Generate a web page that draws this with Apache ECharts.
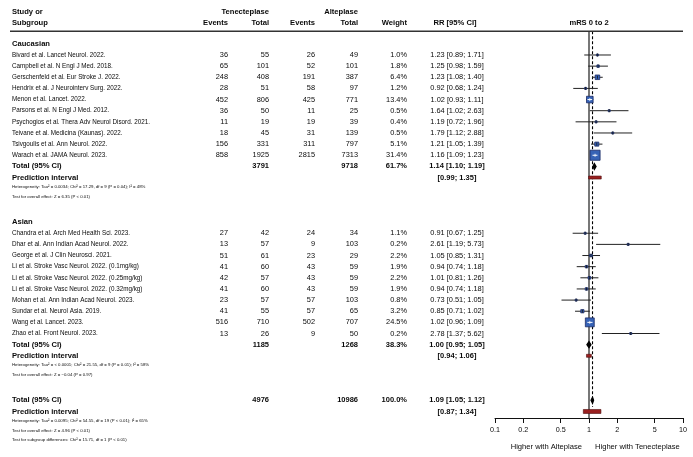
<!DOCTYPE html>
<html><head><meta charset="utf-8">
<script src="https://cdn.jsdelivr.net/npm/echarts@6/dist/echarts.min.js"></script>
<style>html,body{margin:0;padding:0;background:#fff}#c{width:693px;height:457px}</style>
</head><body><div id="c"></div>
<script>
// ---------- DATA ----------
const groupNames = ['Caucasian', 'Asian'];
const cauStudies = ['Bivard et al. Lancet Neurol. 2022.', 'Campbell et al. N Engl J Med. 2018.', 'Gerschenfeld et al. Eur Stroke J. 2022.', 'Hendrix et al. J Neurointerv Surg. 2022.', 'Menon et al. Lancet. 2022.', 'Parsons et al. N Engl J Med. 2012.', 'Psychogios et al. Thera Adv Neurol Disord. 2021.', 'Teivane et al. Medicina (Kaunas). 2022.', 'Tsivgoulis et al. Ann Neurol. 2022.', 'Warach et al. JAMA Neurol. 2023.'];
const cauEvT = [36, 65, 248, 28, 452, 36, 11, 18, 156, 858];
const cauTotT = [55, 101, 408, 51, 806, 50, 19, 45, 331, 1925];
const cauEvA = [26, 52, 191, 58, 425, 11, 19, 31, 311, 2815];
const cauTotA = [49, 101, 387, 97, 771, 25, 39, 139, 797, 7313];
const cauWeight = [1.0, 1.8, 6.4, 1.2, 13.4, 0.5, 0.4, 0.5, 5.1, 31.4];
const cauRR = [1.23, 1.25, 1.23, 0.92, 1.02, 1.64, 1.19, 1.79, 1.21, 1.16];
const cauLo = [0.89, 0.98, 1.08, 0.68, 0.93, 1.02, 0.72, 1.12, 1.05, 1.09];
const cauHi = [1.71, 1.59, 1.40, 1.24, 1.11, 2.63, 1.96, 2.88, 1.39, 1.23];

const asiStudies = ['Chandra et al. Arch Med Health Sci. 2023.', 'Dhar et al. Ann Indian Acad Neurol. 2022.', 'George et al. J Clin Neurosci. 2021.', 'Li et al. Stroke Vasc Neurol. 2022. (0.1mg/kg)', 'Li et al. Stroke Vasc Neurol. 2022. (0.25mg/kg)', 'Li et al. Stroke Vasc Neurol. 2022. (0.32mg/kg)', 'Mohan et al. Ann Indian Acad Neurol. 2023.', 'Sundar et al. Neurol Asia. 2019.', 'Wang et al. Lancet. 2023.', 'Zhao et al. Front Neurol. 2023.'];
const asiEvT = [27, 13, 51, 41, 42, 41, 23, 41, 516, 13];
const asiTotT = [42, 57, 61, 60, 57, 60, 57, 55, 710, 26];
const asiEvA = [24, 9, 23, 43, 43, 43, 57, 57, 502, 9];
const asiTotA = [34, 103, 29, 59, 59, 59, 103, 65, 707, 50];
const asiWeight = [1.1, 0.2, 2.2, 1.9, 2.2, 1.9, 0.8, 3.2, 24.5, 0.2];
const asiRR = [0.91, 2.61, 1.05, 0.94, 1.01, 0.94, 0.73, 0.85, 1.02, 2.78];
const asiLo = [0.67, 1.19, 0.85, 0.74, 0.81, 0.74, 0.51, 0.71, 0.96, 1.37];
const asiHi = [1.25, 5.73, 1.31, 1.18, 1.26, 1.18, 1.05, 1.02, 1.09, 5.62];

// pooled: [Caucasian, Asian, Overall]
const poolTotT = [3791, 1185, 4976];
const poolTotA = [9718, 1268, 10986];
const poolWeight = [61.7, 38.3, 100.0];
const poolRR = [1.14, 1.00, 1.09];
const poolLo = [1.10, 0.95, 1.05];
const poolHi = [1.19, 1.05, 1.12];
const predLo = [0.99, 0.94, 0.87];
const predHi = [1.35, 1.06, 1.34];
const hetTexts = [
  'Heterogeneity: Tau\u00b2 = 0.0034; Chi\u00b2 = 17.29, df = 9 (P = 0.04); I\u00b2 = 48%',
  'Heterogeneity: Tau\u00b2 = < 0.0001; Chi\u00b2 = 21.55, df = 9 (P = 0.01); I\u00b2 = 58%',
  'Heterogeneity: Tau\u00b2 = 0.0095; Chi\u00b2 = 54.55, df = 19 (P < 0.01); I\u00b2 = 65%'];
const effectTexts = [
  'Test for overall effect: Z = 6.35 (P < 0.01)',
  'Test for overall effect: Z = \u22120.04 (P = 0.97)',
  'Test for overall effect: Z = 4.96 (P < 0.01)'];
const subgroupText = 'Test for subgroup differences: Chi\u00b2 = 15.71, df = 1 (P < 0.01)';
const tickValues = [0.1, 0.2, 0.5, 1, 2, 5, 10];
const favourLabels = ['Higher with Alteplase', 'Higher with Tenecteplase'];
const headers1 = ['Study or', 'Tenecteplase', 'Alteplase'];
const headers2 = ['Subgroup', 'Events', 'Total', 'Events', 'Total', 'Weight', 'RR [95% CI]', 'mRS 0 to 2'];

// ---------- LAYOUT ----------
const FONT = '"Liberation Sans", Arial, Helvetica, sans-serif';
const SIZES = {n: 6.3, d: 7.4, b: 7.6, bd: 7.5, s: 4.3};
const COL = {name: 12, evT: 228, totT: 269, evA: 315, totA: 358, w: 407, rr: 457, rrHead: 455};
const Y_MIN = -4.937, Y_MAX = 32.585;
const HDR_LINE = -2.14;
const INK = '#0a0a0a';

const texts = [];   // {x, y, t, a, f}
function T(x, y, t, a, f) { texts.push({x, y, t: String(t), a, f}); }
const fmt2 = v => v.toFixed(2);
const ci = (r, l, h) => `${fmt2(r)} [${fmt2(l)}; ${fmt2(h)}]`;

const studyRows = [], diamondRows = [], predRows = [];

T(COL.name, -3.84, headers1[0], 'left', 'b');
T(COL.totT, -3.84, headers1[1], 'right', 'b');
T(COL.totA, -3.84, headers1[2], 'right', 'b');
T(COL.name, -2.86, headers2[0], 'left', 'b');
T(COL.evT, -2.86, headers2[1], 'right', 'b');
T(COL.totT, -2.86, headers2[2], 'right', 'b');
T(COL.evA, -2.86, headers2[3], 'right', 'b');
T(COL.totA, -2.86, headers2[4], 'right', 'b');
T(COL.w, -2.86, headers2[5], 'right', 'b');
T(COL.rrHead, -2.86, headers2[6], 'center', 'b');

const groups = [
  [cauStudies, cauEvT, cauTotT, cauEvA, cauTotA, cauWeight, cauRR, cauLo, cauHi],
  [asiStudies, asiEvT, asiTotT, asiEvA, asiTotA, asiWeight, asiRR, asiLo, asiHi]
];
function addPooled(k, r) {
  T(COL.name, r, 'Total (95% CI)', 'left', 'b');
  T(COL.totT, r, poolTotT[k], 'right', 'bd');
  T(COL.totA, r, poolTotA[k], 'right', 'bd');
  T(COL.w, r, poolWeight[k].toFixed(1) + '%', 'right', 'bd');
  T(COL.rr, r, ci(poolRR[k], poolLo[k], poolHi[k]), 'center', 'bd');
  diamondRows.push([poolLo[k], poolHi[k], poolRR[k], r, k]);
  T(COL.name, r + 1, 'Prediction interval', 'left', 'b');
  T(COL.rr, r + 1, `[${fmt2(predLo[k])}; ${fmt2(predHi[k])}]`, 'center', 'bd');
  predRows.push([predLo[k], predHi[k], r + 1, k]);
  T(COL.name, r + 1.85, hetTexts[k], 'left', 's');
  T(COL.name, r + 2.7, effectTexts[k], 'left', 's');
}
let row = -1;
groups.forEach((g, gi) => {
  const [names, eT, tT, eA, tA, w, rr, lo, hi] = g;
  T(COL.name, row, groupNames[gi], 'left', 'b');
  row += 1;
  names.forEach((n, i) => {
    T(COL.name, row, n, 'left', 'n');
    T(COL.evT, row, eT[i], 'right', 'd');
    T(COL.totT, row, tT[i], 'right', 'd');
    T(COL.evA, row, eA[i], 'right', 'd');
    T(COL.totA, row, tA[i], 'right', 'd');
    T(COL.w, row, w[i].toFixed(1) + '%', 'right', 'd');
    T(COL.rr, row, ci(rr[i], lo[i], hi[i]), 'center', 'd');
    studyRows.push([lo[i], hi[i], rr[i], row, w[i]]);
    row += 1;
  });
  addPooled(gi, row);
  row += 5;
});
// overall
row = 31;
addPooled(2, row);
T(COL.name, row + 3.55, subgroupText, 'left', 's');

const fontOf = f => (f === 'b' || f === 'bd' ? 'bold ' : '') + SIZES[f] + 'px ' + FONT;

// ---------- CHART ----------
const chart = echarts.init(document.getElementById('c'), null, {renderer: 'canvas'});
const yAxisCommon = {type: 'value', min: Y_MIN, max: Y_MAX, inverse: true, show: false};

const option = {
  backgroundColor: '#fff',
  animation: false,
  grid: [
    {left: 495, right: 10, top: 0, bottom: 39},
    {left: 0, right: 0, top: 0, bottom: 39}
  ],
  xAxis: [
    {type: 'log', logBase: 10, min: 0.1, max: 10, gridIndex: 0, position: 'bottom',
     splitLine: {show: false},
     axisLine: {show: true, onZero: false, lineStyle: {color: '#111', width: 1}},
     axisTick: {show: true, inside: false, length: 5, customValues: tickValues, lineStyle: {color: '#111', width: 1}},
     axisLabel: {show: true, customValues: tickValues, margin: 9, fontSize: 7.2, fontFamily: FONT, color: INK,
       formatter: v => String(+(+v).toPrecision(2))},
     minorTick: {show: false}},
    {type: 'value', min: 0, max: 693, gridIndex: 1, show: false}
  ],
  yAxis: [Object.assign({gridIndex: 0}, yAxisCommon), Object.assign({gridIndex: 1}, yAxisCommon)],
  series: [
    // header rule
    {type: 'custom', xAxisIndex: 1, yAxisIndex: 1, clip: false, silent: true,
     data: [[10, 683, HDR_LINE]],
     renderItem(p, api) {
       const a = api.coord([api.value(0), api.value(2)]), b = api.coord([api.value(1), api.value(2)]);
       return {type: 'line', shape: {x1: a[0], y1: a[1], x2: b[0], y2: b[1]}, style: {stroke: '#333', lineWidth: 1.5}};
     }},
    // table text
    {type: 'custom', xAxisIndex: 1, yAxisIndex: 1, clip: false, silent: true,
     data: texts.map((t, i) => [t.x, t.y, i]),
     renderItem(p, api) {
       const it = texts[api.value(2)];
       const c = api.coord([api.value(0), api.value(1)]);
       return {type: 'text', x: c[0], y: c[1], style: {text: it.t, align: it.a, verticalAlign: 'middle', font: fontOf(it.f), fill: INK}};
     }},
    // reference lines
    {type: 'custom', xAxisIndex: 0, yAxisIndex: 0, clip: false, silent: true, z: 1,
     data: [[1, HDR_LINE, Y_MAX, 0], [poolRR[2], HDR_LINE, 31.6, 1]],
     renderItem(p, api) {
       const a = api.coord([api.value(0), api.value(1)]), b = api.coord([api.value(0), api.value(2)]);
       const dashed = api.value(3) === 1;
       return {type: 'line', shape: {x1: a[0], y1: a[1], x2: b[0], y2: b[1]},
         style: dashed ? {stroke: '#000', lineWidth: 1.1, lineDash: [3, 2]} : {stroke: '#555', lineWidth: 1.6}};
     }},
    // studies
    {type: 'custom', xAxisIndex: 0, yAxisIndex: 0, clip: false, silent: true, z: 3,
     data: studyRows,
     renderItem(p, api) {
       const y = api.value(3);
       const pl = api.coord([api.value(0), y]), ph = api.coord([api.value(1), y]), pe = api.coord([api.value(2), y]);
       const s = Math.max(2, 1.8 * Math.sqrt(api.value(4)));
       const ch = [
         {type: 'line', shape: {x1: pl[0], y1: pl[1], x2: ph[0], y2: ph[1]}, style: {stroke: '#222', lineWidth: 1}},
         {type: 'rect', shape: {x: pe[0] - s / 2, y: pe[1] - s / 2, width: s, height: s}, style: {fill: '#3763b6', stroke: '#1d2c66', lineWidth: 0.8}}
       ];
       if (s > 5) {
         ch.push({type: 'line', shape: {x1: Math.max(pl[0], pe[0] - s / 2 + 1), y1: pe[1], x2: Math.min(ph[0], pe[0] + s / 2 - 1), y2: pe[1]}, style: {stroke: '#fff', lineWidth: 1}});
         ch.push({type: 'line', shape: {x1: pe[0], y1: pe[1] - 1.5, x2: pe[0], y2: pe[1] + 1.5}, style: {stroke: '#fff', lineWidth: 0.8}});
       } else {
         ch.push({type: 'line', shape: {x1: pe[0], y1: pe[1] - 1.5, x2: pe[0], y2: pe[1] + 1.5}, style: {stroke: '#111', lineWidth: 0.8}});
       }
       return {type: 'group', children: ch};
     }},
    // pooled diamonds
    {type: 'custom', xAxisIndex: 0, yAxisIndex: 0, clip: false, silent: true, z: 4,
     data: diamondRows,
     renderItem(p, api) {
       const y = api.value(3);
       const pl = api.coord([api.value(0), y]), ph = api.coord([api.value(1), y]), pe = api.coord([api.value(2), y]);
       const h = 3;
       return {type: 'polygon', shape: {points: [[pl[0], pe[1]], [pe[0], pe[1] - h], [ph[0], pe[1]], [pe[0], pe[1] + h]]},
         style: {fill: '#000', stroke: '#000', lineWidth: 1.2}};
     }},
    // prediction intervals
    {type: 'custom', xAxisIndex: 0, yAxisIndex: 0, clip: false, silent: true, z: 4,
     data: predRows,
     renderItem(p, api) {
       const y = api.value(2);
       const pl = api.coord([api.value(0), y]), ph = api.coord([api.value(1), y]);
       const h = api.value(3) === 2 ? 4 : 3;
       return {type: 'rect', shape: {x: pl[0], y: pl[1] - h / 2, width: ph[0] - pl[0], height: h},
         style: {fill: '#9a2020', stroke: '#4d0d0d', lineWidth: 0.6}};
     }},
    // plot header + favour labels
    {type: 'custom', xAxisIndex: 0, yAxisIndex: 0, clip: false, silent: true,
     data: [[1, -2.86, 0], [1, 35.2, 1], [1, 35.2, 2]],
     renderItem(p, api) {
       const k = api.value(2);
       const c = api.coord([api.value(0), api.value(1)]);
       if (k === 0) return {type: 'text', x: c[0], y: c[1], style: {text: headers2[7], align: 'center', verticalAlign: 'middle', font: `bold ${SIZES.b}px ${FONT}`, fill: INK}};
       return {type: 'text', x: c[0] + (k === 1 ? -7 : 6), y: c[1],
         style: {text: favourLabels[k - 1], align: k === 1 ? 'right' : 'left', verticalAlign: 'middle', font: `7.6px ${FONT}`, fill: INK}};
     }}
  ]
};
chart.setOption(option);
</script>
</body></html>
